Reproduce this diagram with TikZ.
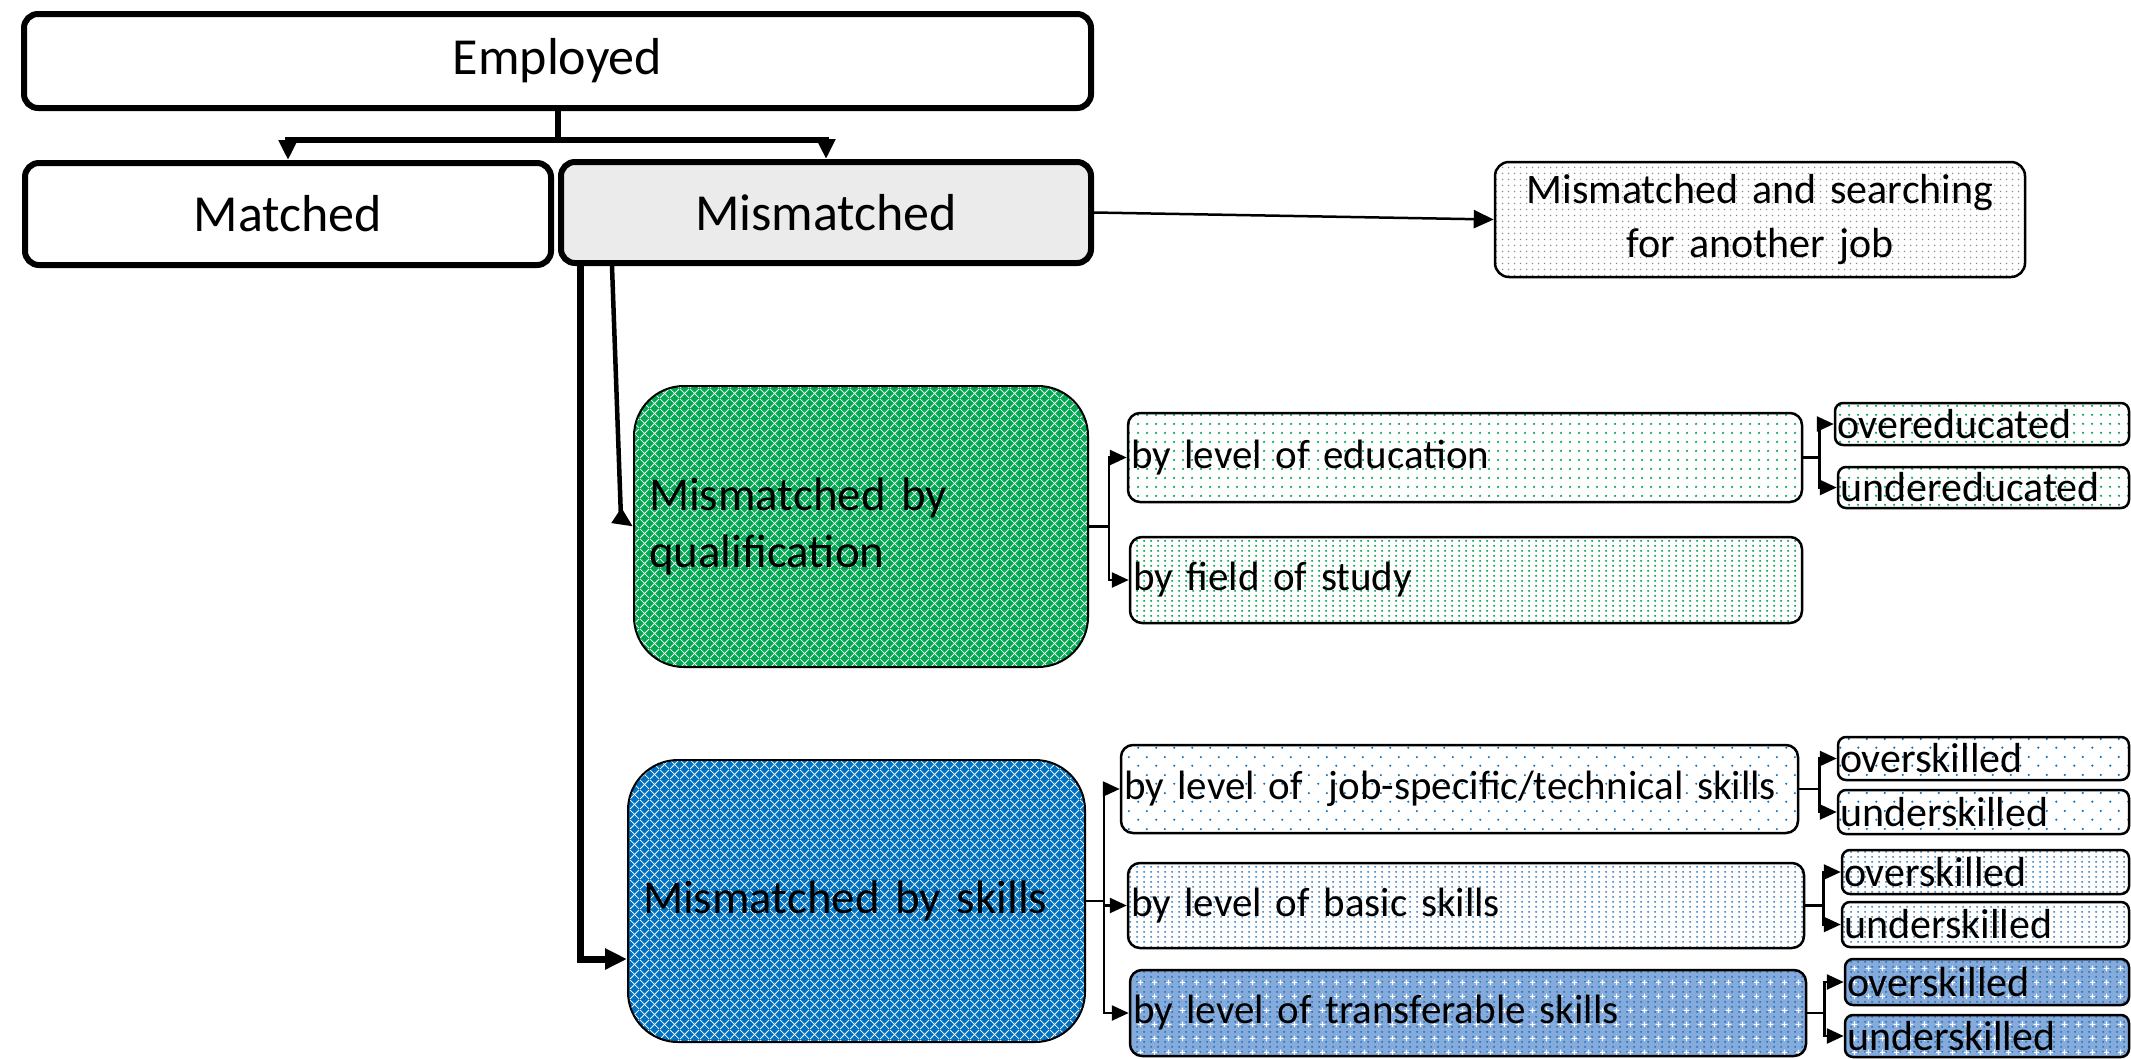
\documentclass[tikz,border=0pt]{standalone}
\usepackage{fontspec}
\setmainfont{Carlito}
\usetikzlibrary{arrows.meta,patterns.meta,calc}

\definecolor{qgreen}{HTML}{00A651}
\definecolor{dgreen}{HTML}{00A850}
\definecolor{sblue}{HTML}{0070C0}
\definecolor{dblue}{HTML}{2E75B6}
\definecolor{tblue}{HTML}{84ABDC}
\definecolor{mgray}{HTML}{EBEBEB}

\tikzdeclarepattern{name=latt, type=uncolored,
  bottom left={(0pt,0pt)}, top right={(10pt,10pt)}, tile size={(10pt,10pt)},
  code={\draw[line width=0.9pt] (0pt,0pt) -- (10pt,10pt);
        \draw[line width=0.9pt] (0pt,10pt) -- (10pt,0pt);}}
\tikzdeclarepattern{name=dotsEdu, type=uncolored,
  bottom left={(0pt,0pt)}, top right={(9pt,9pt)}, tile size={(9pt,9pt)},
  code={\fill (4.5pt,4.5pt) circle (1.3pt);}}
\tikzdeclarepattern{name=dotsDense, type=uncolored,
  bottom left={(0pt,0pt)}, top right={(7pt,5pt)}, tile size={(7pt,5pt)},
  code={\fill (3.5pt,2.5pt) circle (1.3pt);}}
\tikzdeclarepattern{name=dotsJob, type=uncolored,
  bottom left={(0pt,0pt)}, top right={(18pt,18pt)}, tile size={(18pt,18pt)},
  code={\fill (4.5pt,4.5pt) circle (1.2pt); \fill (13.5pt,13.5pt) circle (1.2pt);}}
\tikzdeclarepattern{name=dotsSearch, type=uncolored,
  bottom left={(0pt,0pt)}, top right={(6pt,6pt)}, tile size={(6pt,6pt)},
  code={\fill (3pt,3pt) circle (0.9pt);}}
\tikzdeclarepattern{name=crossT, type=uncolored,
  bottom left={(0pt,0pt)}, top right={(14pt,14pt)}, tile size={(14pt,14pt)},
  code={\draw[line width=1.2pt] (4pt,7pt) -- (10pt,7pt);
        \draw[line width=1.2pt] (7pt,4pt) -- (7pt,10pt);}}

\newcommand\bx[8]{%
  \node[#6, inner xsep=#7pt, inner ysep=0pt,
        text width=\dimexpr #4pt - #2pt - #7pt - #7pt\relax,
        minimum width=\dimexpr #4pt - #2pt\relax,
        minimum height=\dimexpr #5pt - #3pt\relax]
     (#1) at ({(#2+#4)/2},{(#3+#5)/2}) {#8};}

\tikzset{
  bigbox/.style={draw, line width=6pt, rounded corners=14pt, align=center,
    font=\fontsize{52}{62}\selectfont},
  searchbox/.style={draw, line width=2.5pt, rounded corners=14pt, align=center,
    font=\fontsize{42}{54}\selectfont,
    preaction={fill=white}, preaction={pattern=dotsSearch, pattern color=black!45}},
  midbox/.style={draw, line width=2pt, rounded corners=50pt, align=left,
    font=\fontsize{47}{57}\selectfont},
  qualbox/.style={midbox, preaction={fill=dgreen}, preaction={pattern=latt, pattern color=white}},
  skillbox/.style={midbox, preaction={fill=sblue}, preaction={pattern=latt, pattern color=white}},
  smallbox/.style={draw, line width=2.5pt, rounded corners=12pt, align=left,
    font=\fontsize{41}{52}\selectfont},
  tinybox/.style={smallbox, rounded corners=8pt, font=\fontsize{42}{52}\selectfont},
  edufill/.style={preaction={fill=white}, preaction={pattern=dotsEdu, pattern color=qgreen}},
  fieldfill/.style={preaction={fill=white}, preaction={pattern=dotsDense, pattern color=qgreen}},
  jobfill/.style={preaction={fill=white}, preaction={pattern=dotsJob, pattern color=sblue}},
  basicfill/.style={preaction={fill=white}, preaction={pattern=dotsDense, pattern color=dblue!85}},
  transfill/.style={preaction={fill=tblue}, preaction={pattern=dotsDense, pattern color=dblue},
    preaction={pattern=crossT, pattern color=white}},
  thickc/.style={line width=6pt, line join=miter, -{Triangle[length=20pt,width=18pt]}},
  thinc/.style={line width=2.5pt, line join=miter, -{Triangle[length=17pt,width=15pt]}},
}

\begin{document}
\begin{tikzpicture}[x=1pt,y=-1pt]
\fill[white] (0,0) rectangle (2131,1058);
\useasboundingbox (0,0) rectangle (2131,1058);

% top level
\bx{emp}{24}{14}{1091}{108}{bigbox}{4}{Employed}
\bx{matched}{25}{163}{551}{265}{bigbox}{4}{Matched}
\bx{mism}{561}{162}{1091}{263}{bigbox, fill=mgray}{4}{Mismatched}
\bx{search}{1495}{162}{2025}{277}{searchbox}{4}{Mismatched and searching\\for another job}

% qualification branch
\bx{qual}{634}{386}{1088}{667}{qualbox}{15}{Mismatched by\\qualification}
\bx{edu}{1128}{413}{1802}{502}{smallbox, edufill}{3}{by level of education}
\bx{field}{1130}{537}{1802}{623}{smallbox, fieldfill}{3}{by field of study}
\bx{oe}{1835}{403}{2129}{445}{tinybox, edufill}{2}{overeducated}
\bx{ue}{1838}{467}{2129}{508}{tinybox, edufill}{2}{undereducated}

% skills branch
\bx{skills}{628}{760}{1085}{1042}{skillbox}{15}{Mismatched by skills}
\bx{job}{1121}{745}{1798}{833}{smallbox, jobfill}{3}{\mbox{by level of\hspace{0.3em} job-specific/technical skills}}
\bx{basic}{1128}{863}{1804}{948}{smallbox, basicfill}{3}{by level of basic skills}
\bx{trans}{1130}{970}{1806}{1056}{smallbox, transfill}{3}{by level of transferable skills}
\bx{os1}{1838}{737}{2129}{780}{tinybox, jobfill}{2}{overskilled}
\bx{us1}{1838}{790}{2129}{834}{tinybox, jobfill}{2}{underskilled}
\bx{os2}{1842}{850}{2129}{894}{tinybox, basicfill}{2}{overskilled}
\bx{us2}{1842}{902}{2129}{947}{tinybox, basicfill}{2}{underskilled}
\bx{os3}{1845}{959}{2129}{1005}{tinybox, transfill}{2}{overskilled}
\bx{us3}{1845}{1015}{2129}{1057}{tinybox, transfill}{2}{underskilled}

% connectors
\draw[thickc] (emp.south) -- ++(0,29) -| (matched.north);
\draw[thickc] (emp.south) -- ++(0,29) -| (mism.north);
\draw[line width=2.5pt, -{Triangle[length=20pt,width=18pt]}] (mism.east) -- (search.west);
\draw[line width=7pt, line join=miter, -{Triangle[length=22pt,width=20pt]}]
  ([xshift=22pt]mism.south west) |- ($(skills.west)+(0,58)$);
\draw[line width=4.5pt, -{Triangle[length=20pt,width=17pt]}]
  ([xshift=54pt]mism.south west) -- ($(qual.west)+(-12,-8)$) -- (qual.west);

\draw[thinc] (qual.east) -- ++(20,0) |- (edu.west);
\draw[thinc] (qual.east) -- ++(20,0) |- (field.west);
\draw[thinc] (edu.east) -- ++(16,0) |- (oe.west);
\draw[thinc] (edu.east) -- ++(16,0) |- (ue.west);

\draw[thinc] (skills.east) -- ++(18,0) |- (job.west);
\draw[thinc] (skills.east) -- ++(18,0) |- (basic.west);
\draw[thinc] (skills.east) -- ++(18,0) |- (trans.west);
\draw[thinc] (job.east) -- ++(20,0) |- (os1.west);
\draw[thinc] (job.east) -- ++(20,0) |- (us1.west);
\draw[thinc] (basic.east) -- ++(18,0) |- (os2.west);
\draw[thinc] (basic.east) -- ++(18,0) |- (us2.west);
\draw[thinc] (trans.east) -- ++(17,0) |- (os3.west);
\draw[thinc] (trans.east) -- ++(17,0) |- (us3.west);
\end{tikzpicture}
\end{document}
